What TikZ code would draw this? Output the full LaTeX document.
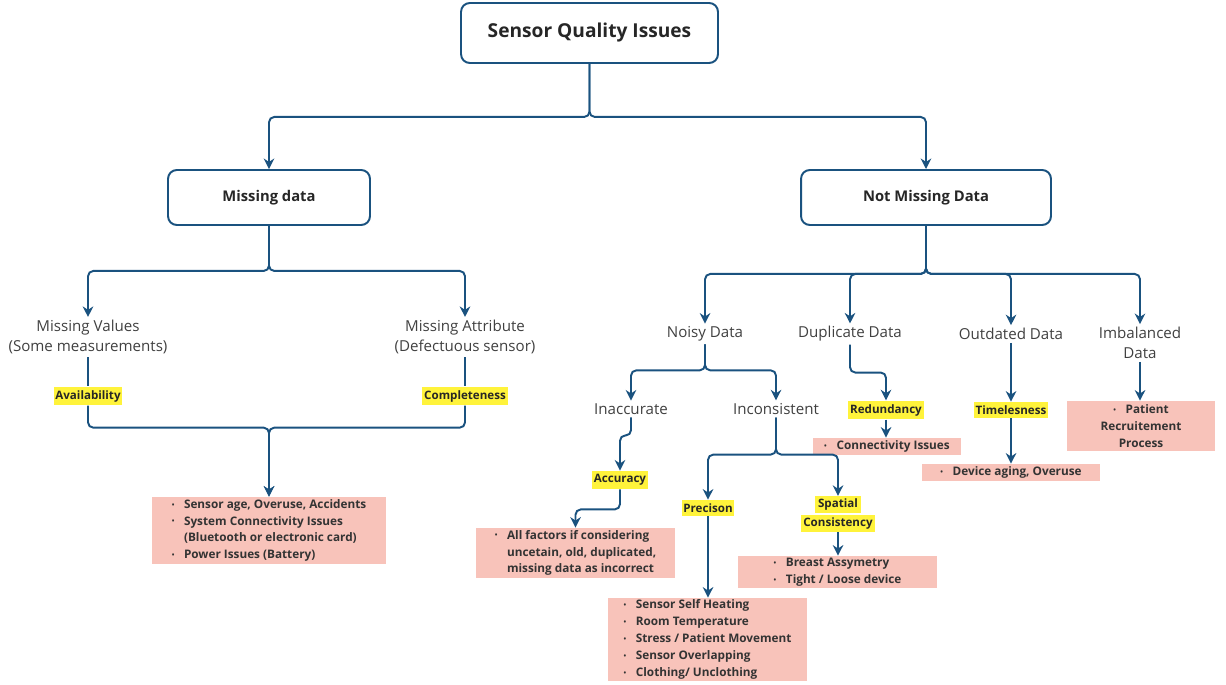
\documentclass[tikz,border=0pt]{standalone}
\usepackage{fontspec}
\setmainfont{Open Sans}
\usetikzlibrary{arrows.meta,positioning}
\definecolor{linkblue}{HTML}{1A527F}
\definecolor{causepink}{HTML}{F8C3BA}
\definecolor{tagyellow}{HTML}{FFF33B}
\definecolor{labelgray}{HTML}{404040}
\newcommand{\bul}{\makebox[7pt][l]{\raisebox{0.7pt}{\fontsize{4}{4}\selectfont\textbullet}}}

\begin{document}
\begin{tikzpicture}[x=0.02cm,y=-0.02cm,
  headbox/.style={draw=linkblue,line width=1.1pt,rounded corners=5pt,fill=white,text=black!85,font=\bfseries},
  catlabel/.style={text=labelgray,font=\fontsize{8.6}{11.5}\selectfont,align=center,inner sep=1.5pt},
  tagmark/.style={fill=tagyellow,text=black!85,font=\fontsize{6.6}{8}\selectfont\bfseries,inner xsep=1pt,inner ysep=2pt},
  causebox/.style={fill=causepink,text=black!80,font=\fontsize{6.7}{9.6}\selectfont\bfseries,align=left,inner sep=0pt},
  conn/.style={draw=linkblue,line width=1.1pt,rounded corners=3pt,-{Stealth[length=6pt,width=6pt]}},
  link/.style={draw=linkblue,line width=1.1pt,rounded corners=3pt}]
\useasboundingbox (0,0) rectangle (1226,685);
% top levels
\node[headbox,minimum width=5.14cm,minimum height=1.2cm,font=\fontsize{10.9}{13}\selectfont\bfseries] (root) at (589.5,33) {Sensor Quality Issues};
\node[headbox,minimum width=4.04cm,minimum height=1.1cm,font=\fontsize{8.4}{10}\selectfont\bfseries] (miss) at (269,197.5) {Missing data};
\node[headbox,minimum width=5.0cm,minimum height=1.1cm,font=\fontsize{8.4}{10}\selectfont\bfseries] (notmiss) at (926,197.5) {Not Missing Data};
% missing branch
\node[catlabel] (mval) at (88,337) {Missing Values\\(Some measurements)};
\node[catlabel] (mattr) at (465,337) {Missing Attribute\\(Defectuous sensor)};
\node[tagmark] (avail) at (88,396) {Availability};
\node[tagmark] (compl) at (465,396) {Completeness};
\node[causebox,minimum width=4.68cm,minimum height=1.34cm] (cause1) at (269,530.5) {\bul Sensor age, Overuse, Accidents\\\bul System Connectivity Issues\\\hspace*{7pt}(Bluetooth or electronic card)\\\bul Power Issues (Battery)};
% not missing branch
\node[catlabel] (noisy) at (705,334) {Noisy Data};
\node[catlabel] (dupl) at (850,334) {Duplicate Data};
\node[catlabel] (outd) at (1011,334) {Outdated Data};
\node[catlabel] (imbal) at (1140,343) {Imbalanced\\Data};
\node[catlabel] (inacc) at (631,409) {Inaccurate};
\node[catlabel] (incons) at (776,409) {Inconsistent};
\node[tagmark] (accur) at (620,480) {Accuracy};
\node[tagmark] (precis) at (708,508) {Precison};
\node[tagmark,fill=none,inner sep=0pt,align=center,font=\fontsize{6.6}{9}\selectfont\bfseries\setlength{\fboxsep}{1.5pt}] (spatial) at (838,514) {\colorbox{tagyellow}{Spatial}\\\colorbox{tagyellow}{Consistency}};
\node[tagmark] (redund) at (886,410) {Redundancy};
\node[tagmark] (timel) at (1011,410) {Timelesness};
\node[causebox,minimum width=3.98cm,minimum height=1.0cm] (cause2) at (575.5,553) {\bul All factors if considering\\\hspace*{7pt}uncetain, old, duplicated,\\\hspace*{7pt}missing data as incorrect};
\node[causebox,minimum width=3.98cm,minimum height=1.66cm] (cause3) at (707.5,639.5) {\bul Sensor Self Heating\\\bul Room Temperature\\\bul Stress / Patient Movement\\\bul Sensor Overlapping\\\bul Clothing/ Unclothing};
\node[causebox,minimum width=3.98cm,minimum height=0.64cm] (cause4) at (837.5,572) {\bul Breast Assymetry\\\bul Tight / Loose device};
\node[causebox,minimum width=2.96cm,minimum height=0.34cm] (cause5) at (887,446.5) {\bul Connectivity Issues};
\node[causebox,minimum width=3.56cm,minimum height=0.34cm] (cause6) at (1011,472.5) {\bul Device aging, Overuse};
\node[causebox,minimum width=2.96cm,minimum height=1.0cm,align=center] (cause7) at (1141,426) {\bul Patient\\Recruitement\\Process};
% connectors
\draw[conn] (root.south) -- ++(0,53) -| (miss.north);
\draw[conn] (root.south) -- ++(0,53) -| (notmiss.north);
\draw[conn] (miss.south) -- ++(0,45) -| (mval.north);
\draw[conn] (miss.south) -- ++(0,45) -| (mattr.north);
\draw[link] (mval.south) -- (avail.north);
\draw[link] (mattr.south) -- (compl.north);
\draw[conn] (avail.south) -- ++(0,22) -| (cause1.north);
\draw[conn] (compl.south) -- ++(0,22) -| (cause1.north);
\foreach \kid in {noisy,dupl,outd,imbal}
  \draw[conn] (notmiss.south) -- ++(0,48) -| (\kid.north);
\foreach \kid in {inacc,incons}
  \draw[conn] (noisy.south) -- ++(0,26) -| (\kid.north);
\draw[conn] (inacc.south) -- ++(0,18) -| (accur.north);
\draw[conn] (accur.south) -- ++(0,20) -| (cause2.north);
\foreach \kid in {precis,spatial}
  \draw[conn] (incons.south) -- ++(0,37) -| (\kid.north);
\draw[conn] (precis.south) -- (precis.south |- cause3.north);
\draw[conn] (spatial.south) -- (spatial.south |- cause4.north);
\draw[conn] (dupl.south) -- ++(0,28) -| (redund.north);
\draw[conn] (redund.south) -- (redund.south |- cause5.north);
\draw[conn] (outd.south) -- (timel.north);
\draw[conn] (timel.south) -- (timel.south |- cause6.north);
\draw[conn] (imbal.south) -- (imbal.south |- cause7.north);
\end{tikzpicture}
\end{document}
